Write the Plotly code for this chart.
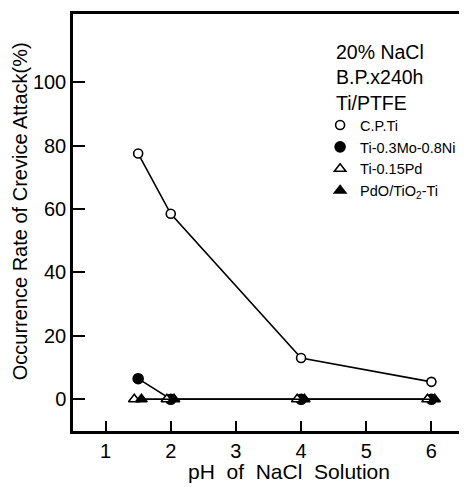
import numpy as np
import plotly.graph_objects as go

ph = [1.5, 2, 4, 6]
cp_ti = [77.5, 58.5, 13, 5.5]
ti_mo_ni = [6.5, 0, 0, 0]
ti_pd = [0, 0, 0, 0]
pdo_tio2 = [0, 0, 0, 0]

x_ticks = [1, 2, 3, 4, 5, 6]
y_ticks = [0, 20, 40, 60, 80, 100]

names = ["C.P.Ti", "Ti-0.3Mo-0.8Ni", "Ti-0.15Pd", "PdO/TiO<sub>2</sub>-Ti"]

FONT = "Liberation Sans"
phx = np.array(ph, dtype=float)

fig = go.Figure()
# series: (values, symbol, fill, x-offset, size)
series = [
    (cp_ti, "circle", "white", 0.0, 9),
    (ti_mo_ni, "circle", "black", 0.0, 10),
    (ti_pd, "triangle-up", "white", -0.06, 10),
    (pdo_tio2, "triangle-up", "black", 0.05, 10),
]
for i, (name, (vals, sym, fill, off, size)) in enumerate(zip(names, series)):
    mk = dict(symbol=sym, size=size, color=fill, line=dict(color="black", width=1.6))
    fig.add_trace(go.Scatter(
        x=phx + off, y=vals, name=name, mode="lines+markers",
        line=dict(color="black", width=1.6), marker=mk,
        cliponaxis=False, showlegend=False, legendgroup=str(i),
    ))
    # legend entry: marker only, as in the reference
    fig.add_trace(go.Scatter(
        x=[None], y=[None], name=name, mode="markers", marker=mk,
        showlegend=True, legendgroup=str(i),
    ))

# the page body has an 8px margin, so the figure is sized to the visible area
fig.update_layout(
    width=459, height=479,
    margin=dict(l=65, r=3, t=6, b=56, autoexpand=False),
    paper_bgcolor="white", plot_bgcolor="white",
    font=dict(family=FONT, color="black", size=18),
    showlegend=True,
    legend=dict(x=0.632, y=0.772, xanchor="left", yanchor="top",
                bgcolor="rgba(0,0,0,0)", font=dict(size=14.5, family=FONT),
                itemwidth=30, tracegroupgap=0),
    xaxis=dict(range=[0.5, 6.5], tickvals=x_ticks, ticks="inside", ticklen=10,
               tickwidth=1.5, tickcolor="black",
               showline=True, linecolor="black", linewidth=2.5, mirror=True,
               showgrid=False, zeroline=False, automargin=False,
               tickfont=dict(size=20)),
    yaxis=dict(range=[-10, 121.5], tickvals=y_ticks, ticks="inside", ticklen=12,
               tickwidth=1.5, tickcolor="black",
               showline=True, linecolor="black", linewidth=2.5, mirror=True,
               showgrid=False, zeroline=False, automargin=False,
               tickfont=dict(size=20)),
)

# axis titles (placed as in the reference, slightly off-centre)
fig.add_annotation(
    xref="paper", yref="paper", x=0.553, y=-0.098, xanchor="center", yanchor="middle",
    text="pH  of  NaCl  Solution", showarrow=False, font=dict(size=21, family=FONT),
)
fig.add_annotation(
    xref="paper", yref="paper", x=-0.137, y=0.528, xanchor="center", yanchor="middle",
    text="Occurrence Rate of Crevice Attack(%)", textangle=-90, showarrow=False,
    font=dict(size=20, family=FONT),
)

fig.add_annotation(
    xref="paper", yref="paper", x=0.667, y=0.94, xanchor="left", yanchor="top",
    text="20% NaCl<br>B.P.x240h<br>Ti/PTFE", showarrow=False, align="left",
    font=dict(size=19.5, family=FONT),
)

fig.write_html("out.html")
